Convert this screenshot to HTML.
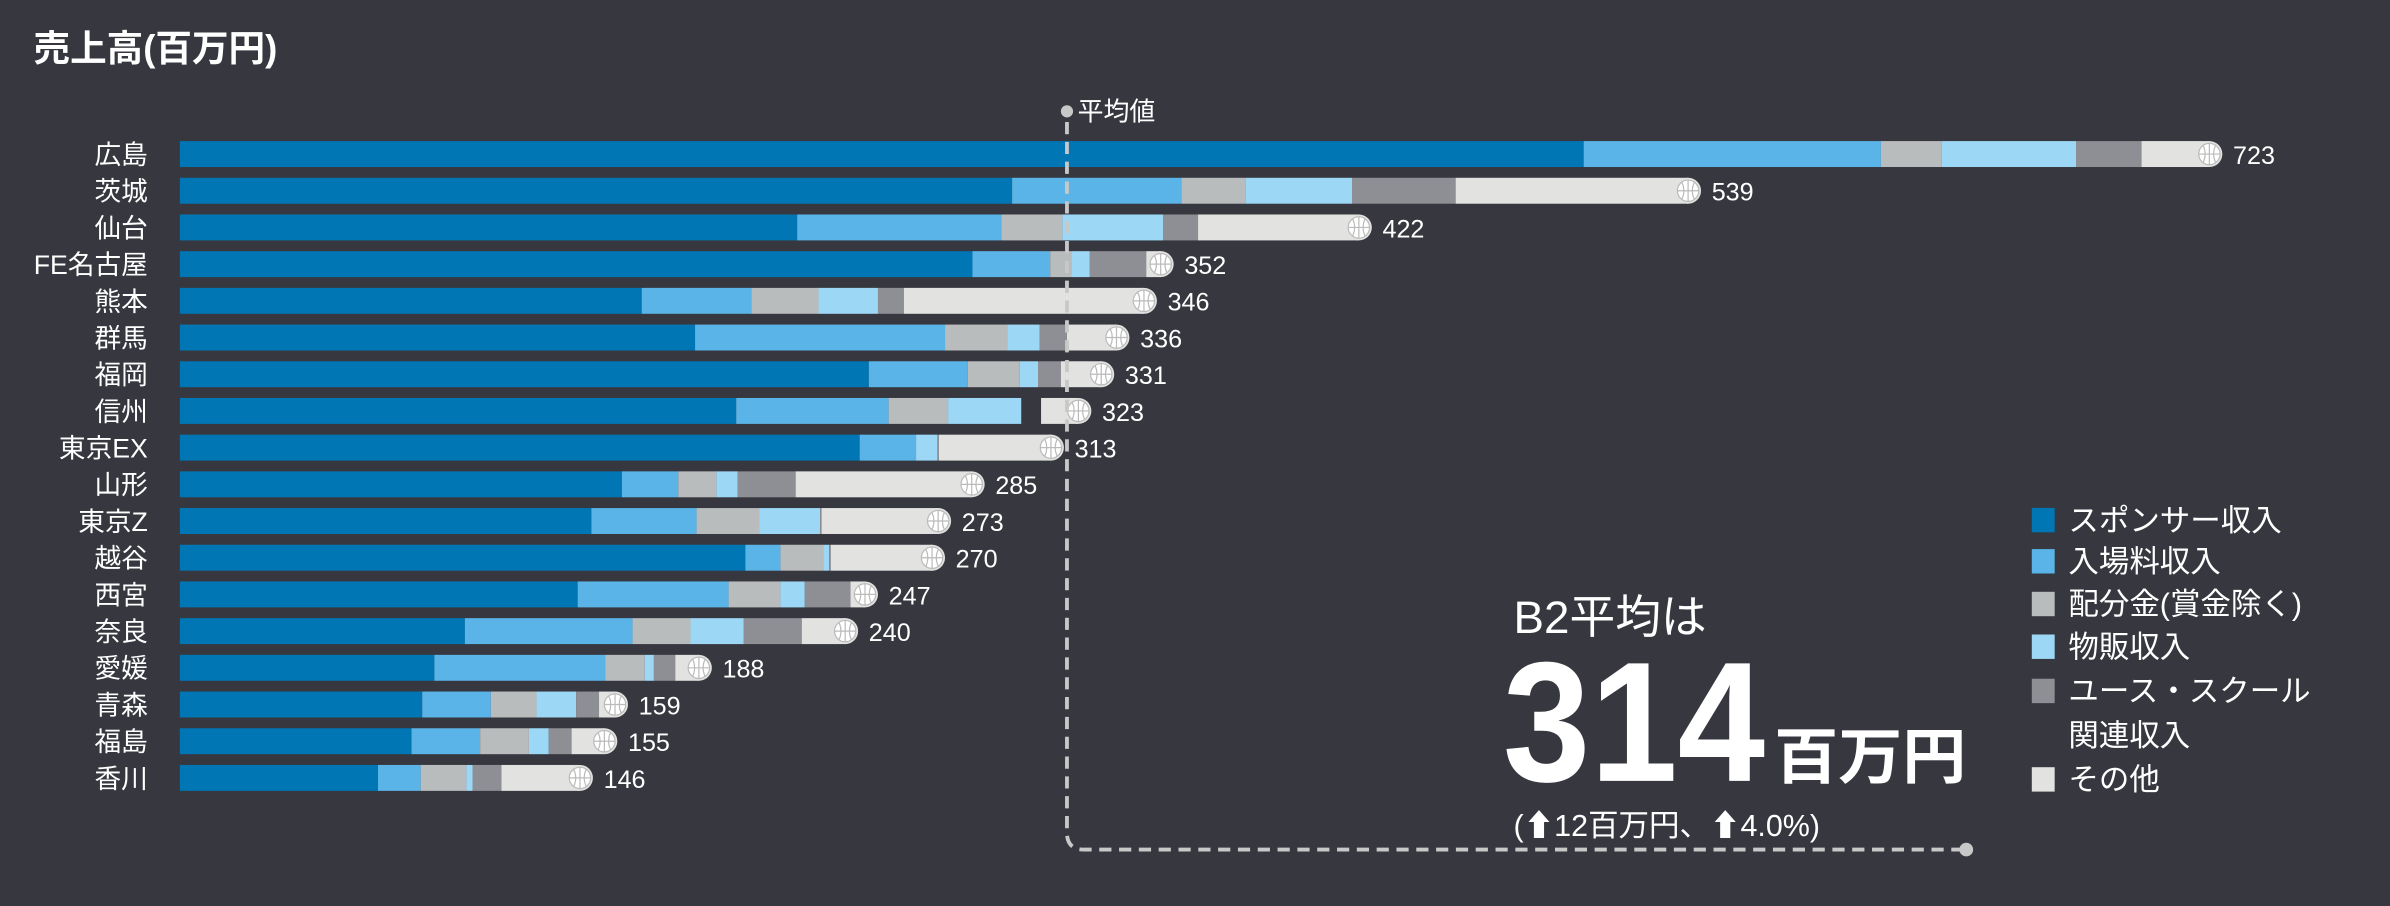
<!DOCTYPE html>
<html><head><meta charset="utf-8"><style>
html,body{margin:0;padding:0;background:#37383f;}
svg{display:block;}
text{font-family:"Liberation Sans","Noto Sans CJK JP",sans-serif;fill:#fff;}
.a{fill:#0076b5}.b{fill:#5ab4e8}.c{fill:#b9bcbd}.d{fill:#9dd7f6}.e{fill:#8e8f94}.f{fill:#e2e2e0}
.n{font-size:17.5px;text-anchor:end}.v{font-size:16.5px}
</style></head><body>
<svg width="2390" height="906" viewBox="0 0 1568 594" preserveAspectRatio="none" xmlns="http://www.w3.org/2000/svg">
<defs>
<g id="ball"><circle cx="0" cy="0" r="7" fill="#fff" stroke="#bbb" stroke-width="0.8"/><path d="M0 -7V7M-7 0H7M-4 -5.5Q-1.5 0 -4 5.5M4 -5.5Q1.5 0 4 5.5" fill="none" stroke="#bbb" stroke-width="0.8"/></g>
</defs>
<rect width="1568" height="594" fill="#37383f"/>
<text x="22" y="40" font-size="24" font-weight="bold">売上高(百万円)</text>

<g transform="translate(0,92.5)"><text class="n" x="97" y="15">広島</text><rect class="a" x="118" width="921" height="17"/><rect class="b" x="1039" width="195" height="17"/><rect class="c" x="1234" width="40" height="17"/><rect class="d" x="1274" width="88" height="17"/><rect class="e" x="1362" width="43" height="17"/><rect class="f" x="1405" width="44.5" height="17"/><circle class="f" cx="1449.5" cy="8.5" r="8.5"/><use href="#ball" x="1449.5" y="8.5"/><text class="v" x="1465" y="15">723</text></g>
<g transform="translate(0,116.56)"><text class="n" x="97" y="15">茨城</text><rect class="a" x="118" width="546" height="17"/><rect class="b" x="664" width="111" height="17"/><rect class="c" x="775" width="42" height="17"/><rect class="d" x="817" width="70" height="17"/><rect class="e" x="887" width="68" height="17"/><rect class="f" x="955" width="152.5" height="17"/><circle class="f" cx="1107.5" cy="8.5" r="8.5"/><use href="#ball" x="1107.5" y="8.5"/><text class="v" x="1123" y="15">539</text></g>
<g transform="translate(0,140.62)"><text class="n" x="97" y="15">仙台</text><rect class="a" x="118" width="405" height="17"/><rect class="b" x="523" width="134" height="17"/><rect class="c" x="657" width="40" height="17"/><rect class="d" x="697" width="66" height="17"/><rect class="e" x="763" width="23" height="17"/><rect class="f" x="786" width="105.5" height="17"/><circle class="f" cx="891.5" cy="8.5" r="8.5"/><use href="#ball" x="891.5" y="8.5"/><text class="v" x="907" y="15">422</text></g>
<g transform="translate(0,164.68)"><text class="n" x="97" y="15">FE名古屋</text><rect class="a" x="118" width="520" height="17"/><rect class="b" x="638" width="51" height="17"/><rect class="c" x="689" width="14" height="17"/><rect class="d" x="703" width="12" height="17"/><rect class="e" x="715" width="37" height="17"/><rect class="f" x="752" width="9.5" height="17"/><circle class="f" cx="761.5" cy="8.5" r="8.5"/><use href="#ball" x="761.5" y="8.5"/><text class="v" x="777" y="15">352</text></g>
<g transform="translate(0,188.74)"><text class="n" x="97" y="15">熊本</text><rect class="a" x="118" width="303" height="17"/><rect class="b" x="421" width="72" height="17"/><rect class="c" x="493" width="44" height="17"/><rect class="d" x="537" width="39" height="17"/><rect class="e" x="576" width="17" height="17"/><rect class="f" x="593" width="157.5" height="17"/><circle class="f" cx="750.5" cy="8.5" r="8.5"/><use href="#ball" x="750.5" y="8.5"/><text class="v" x="766" y="15">346</text></g>
<g transform="translate(0,212.8)"><text class="n" x="97" y="15">群馬</text><rect class="a" x="118" width="338" height="17"/><rect class="b" x="456" width="164" height="17"/><rect class="c" x="620" width="41" height="17"/><rect class="d" x="661" width="21" height="17"/><rect class="e" x="682" width="18" height="17"/><rect class="f" x="700" width="32.5" height="17"/><circle class="f" cx="732.5" cy="8.5" r="8.5"/><use href="#ball" x="732.5" y="8.5"/><text class="v" x="748" y="15">336</text></g>
<g transform="translate(0,236.86)"><text class="n" x="97" y="15">福岡</text><rect class="a" x="118" width="452" height="17"/><rect class="b" x="570" width="65" height="17"/><rect class="c" x="635" width="34" height="17"/><rect class="d" x="669" width="12" height="17"/><rect class="e" x="681" width="15" height="17"/><rect class="f" x="696" width="26.5" height="17"/><circle class="f" cx="722.5" cy="8.5" r="8.5"/><use href="#ball" x="722.5" y="8.5"/><text class="v" x="738" y="15">331</text></g>
<g transform="translate(0,260.92)"><text class="n" x="97" y="15">信州</text><rect class="a" x="118" width="365" height="17"/><rect class="b" x="483" width="100" height="17"/><rect class="c" x="583" width="39" height="17"/><rect class="d" x="622" width="48" height="17"/><rect class="f" x="683" width="24.5" height="17"/><circle class="f" cx="707.5" cy="8.5" r="8.5"/><use href="#ball" x="707.5" y="8.5"/><text class="v" x="723" y="15">323</text></g>
<g transform="translate(0,284.98)"><text class="n" x="97" y="15">東京EX</text><rect class="a" x="118" width="446" height="17"/><rect class="b" x="564" width="37" height="17"/><rect class="d" x="601" width="14" height="17"/><rect class="e" x="615" width="1" height="17"/><rect class="f" x="616" width="73.5" height="17"/><circle class="f" cx="689.5" cy="8.5" r="8.5"/><use href="#ball" x="689.5" y="8.5"/><text class="v" x="705" y="15">313</text></g>
<g transform="translate(0,309.04)"><text class="n" x="97" y="15">山形</text><rect class="a" x="118" width="290" height="17"/><rect class="b" x="408" width="37" height="17"/><rect class="c" x="445" width="25" height="17"/><rect class="d" x="470" width="14" height="17"/><rect class="e" x="484" width="38" height="17"/><rect class="f" x="522" width="115.5" height="17"/><circle class="f" cx="637.5" cy="8.5" r="8.5"/><use href="#ball" x="637.5" y="8.5"/><text class="v" x="653" y="15">285</text></g>
<g transform="translate(0,333.1)"><text class="n" x="97" y="15">東京Z</text><rect class="a" x="118" width="270" height="17"/><rect class="b" x="388" width="69" height="17"/><rect class="c" x="457" width="41" height="17"/><rect class="d" x="498" width="40" height="17"/><rect class="e" x="538" width="1" height="17"/><rect class="f" x="539" width="76.5" height="17"/><circle class="f" cx="615.5" cy="8.5" r="8.5"/><use href="#ball" x="615.5" y="8.5"/><text class="v" x="631" y="15">273</text></g>
<g transform="translate(0,357.16)"><text class="n" x="97" y="15">越谷</text><rect class="a" x="118" width="371" height="17"/><rect class="b" x="489" width="23" height="17"/><rect class="c" x="512" width="28" height="17"/><rect class="d" x="540" width="4" height="17"/><rect class="e" x="544" width="1" height="17"/><rect class="f" x="545" width="66.5" height="17"/><circle class="f" cx="611.5" cy="8.5" r="8.5"/><use href="#ball" x="611.5" y="8.5"/><text class="v" x="627" y="15">270</text></g>
<g transform="translate(0,381.22)"><text class="n" x="97" y="15">西宮</text><rect class="a" x="118" width="261" height="17"/><rect class="b" x="379" width="99" height="17"/><rect class="c" x="478" width="34" height="17"/><rect class="d" x="512" width="16" height="17"/><rect class="e" x="528" width="30" height="17"/><rect class="f" x="558" width="9.5" height="17"/><circle class="f" cx="567.5" cy="8.5" r="8.5"/><use href="#ball" x="567.5" y="8.5"/><text class="v" x="583" y="15">247</text></g>
<g transform="translate(0,405.28)"><text class="n" x="97" y="15">奈良</text><rect class="a" x="118" width="187" height="17"/><rect class="b" x="305" width="110" height="17"/><rect class="c" x="415" width="38" height="17"/><rect class="d" x="453" width="35" height="17"/><rect class="e" x="488" width="38" height="17"/><rect class="f" x="526" width="28.5" height="17"/><circle class="f" cx="554.5" cy="8.5" r="8.5"/><use href="#ball" x="554.5" y="8.5"/><text class="v" x="570" y="15">240</text></g>
<g transform="translate(0,429.34)"><text class="n" x="97" y="15">愛媛</text><rect class="a" x="118" width="167" height="17"/><rect class="b" x="285" width="112" height="17"/><rect class="c" x="397" width="26" height="17"/><rect class="d" x="423" width="6" height="17"/><rect class="e" x="429" width="14" height="17"/><rect class="f" x="443" width="15.5" height="17"/><circle class="f" cx="458.5" cy="8.5" r="8.5"/><use href="#ball" x="458.5" y="8.5"/><text class="v" x="474" y="15">188</text></g>
<g transform="translate(0,453.4)"><text class="n" x="97" y="15">青森</text><rect class="a" x="118" width="159" height="17"/><rect class="b" x="277" width="45" height="17"/><rect class="c" x="322" width="30" height="17"/><rect class="d" x="352" width="26" height="17"/><rect class="e" x="378" width="15" height="17"/><rect class="f" x="393" width="10.5" height="17"/><circle class="f" cx="403.5" cy="8.5" r="8.5"/><use href="#ball" x="403.5" y="8.5"/><text class="v" x="419" y="15">159</text></g>
<g transform="translate(0,477.46)"><text class="n" x="97" y="15">福島</text><rect class="a" x="118" width="152" height="17"/><rect class="b" x="270" width="45" height="17"/><rect class="c" x="315" width="32" height="17"/><rect class="d" x="347" width="13" height="17"/><rect class="e" x="360" width="15" height="17"/><rect class="f" x="375" width="21.5" height="17"/><circle class="f" cx="396.5" cy="8.5" r="8.5"/><use href="#ball" x="396.5" y="8.5"/><text class="v" x="412" y="15">155</text></g>
<g transform="translate(0,501.52)"><text class="n" x="97" y="15">香川</text><rect class="a" x="118" width="130" height="17"/><rect class="b" x="248" width="28" height="17"/><rect class="c" x="276" width="30" height="17"/><rect class="d" x="306" width="4" height="17"/><rect class="e" x="310" width="19" height="17"/><rect class="f" x="329" width="51.5" height="17"/><circle class="f" cx="380.5" cy="8.5" r="8.5"/><use href="#ball" x="380.5" y="8.5"/><text class="v" x="396" y="15">146</text></g>

<path d="M700 80 V546 Q700 557 711 557 H1290" fill="none" stroke="#c8c8c8" stroke-width="2.5" stroke-dasharray="8,5"/>
<circle cx="700" cy="73" r="4" fill="#c8c8c8"/>
<circle cx="1290" cy="557" r="4.5" fill="#c8c8c8"/>
<text x="707" y="79" font-size="17">平均値</text>
<text x="993" y="415" font-size="30">B2平均は</text>
<text x="986" y="512" font-size="112" font-weight="bold" textLength="172" lengthAdjust="spacingAndGlyphs">314</text>
<text x="1164" y="510" font-size="40" font-weight="bold" textLength="126" lengthAdjust="spacingAndGlyphs">百万円</text>
<text x="993" y="548" font-size="20">(⬆12百万円、⬆4.0%)</text>
<g font-size="20">
<rect x="1333" y="333" width="15" height="16" fill="#0076b5"/><text x="1357" y="348">スポンサー収入</text>
<rect x="1333" y="360" width="15" height="16" fill="#5ab4e8"/><text x="1357" y="375">入場料収入</text>
<rect x="1333" y="388" width="15" height="16" fill="#b9bcbd"/><text x="1357" y="403">配分金(賞金除く)</text>
<rect x="1333" y="416" width="15" height="16" fill="#9dd7f6"/><text x="1357" y="431">物販収入</text>
<rect x="1333" y="445" width="15" height="16" fill="#8e8f94"/><text x="1357" y="460">ユース・スクール</text>
<text x="1357" y="489">関連収入</text>
<rect x="1333" y="503" width="15" height="16" fill="#e2e2e0"/><text x="1357" y="518">その他</text>
</g>
</svg>
</body></html>
